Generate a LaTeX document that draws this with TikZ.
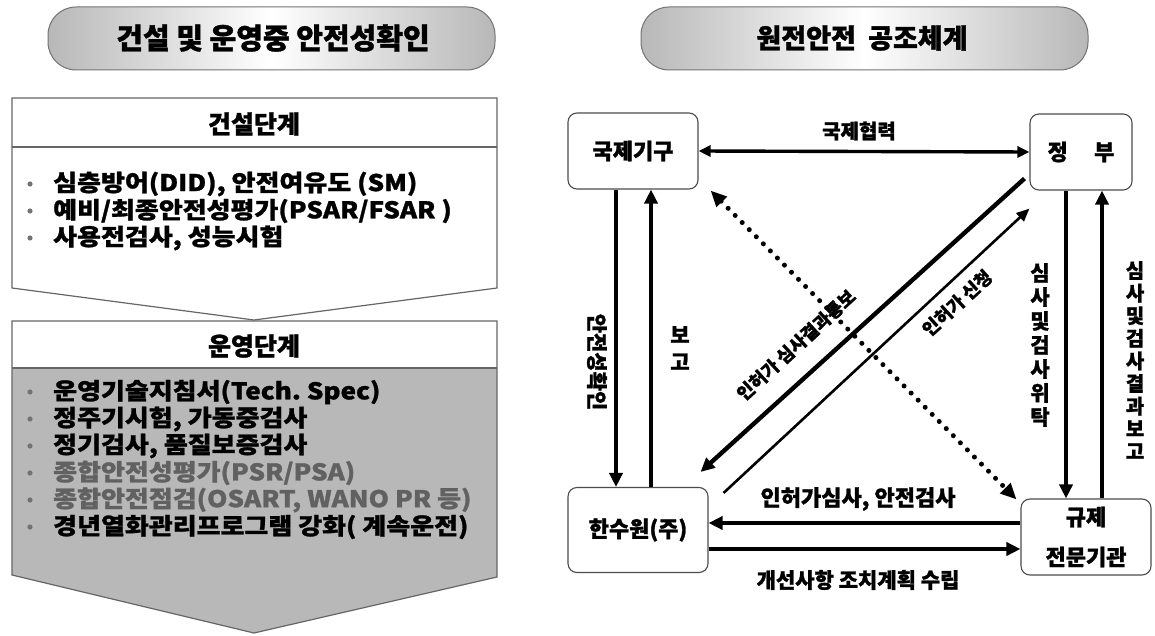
\documentclass[tikz,border=0pt]{standalone}
\usepackage{fontspec}
\setmainfont{Noto Sans CJK KR}[BoldFeatures={FakeBold=1.2}]
\newfontfamily\krwide{Noto Sans CJK KR}[FakeStretch=1.13, BoldFeatures={FakeBold=1.2}]
\usetikzlibrary{arrows.meta,calc}
\tikzset{
  boxline/.style={draw=black!60, line width=1.2pt},
  kbox/.style={draw=black!70, line width=1.1pt, rounded corners=9pt, fill=white, align=center,
    font=\fontsize{22}{26}\selectfont\bfseries},
  arrthick/.style={line width=4.4pt, -{Triangle[length=14pt,width=13pt]}},
  arrboth/.style={line width=3.4pt, {Triangle[length=12pt,width=11pt]}-{Triangle[length=12pt,width=11pt]}},
  arrthin/.style={line width=2.6pt, -{Triangle[length=13pt,width=11pt]}},
  dotarr/.style={line width=5pt, line cap=round, dash pattern=on 0pt off 10pt,
    {Triangle[length=16pt,width=14pt]}-{Triangle[length=16pt,width=14pt]}},
  lbl/.style={font=\fontsize{22}{26}\selectfont\bfseries, inner sep=0pt},
  smlbl/.style={font=\fontsize{18}{22}\selectfont\bfseries, inner sep=0pt},
  vstack/.style={font=\fontsize{21}{24}\selectfont\bfseries, align=center, inner sep=0pt},
  itemtxt/.style={anchor=west, inner sep=0pt, font=\krwide\fontsize{23}{26}\selectfont\bfseries},
  hdrtxt/.style={inner sep=0pt, font=\fontsize{25}{29}\selectfont\bfseries},
  pilltxt/.style={inner sep=0pt, font=\fontsize{29}{34}\selectfont\bfseries},
  bulletdot/.style={fill=black!55, draw=none},
  pill/.style={draw=black!55, line width=1pt, rounded corners=28pt,
    left color=black!28, right color=black!28, middle color=white}
}
\begin{document}
\begin{tikzpicture}[x=1pt,y=-1pt]
\useasboundingbox (0,0) rectangle (1155,636);
\fill[white] (0,0) rectangle (1155,636);

% ---------------- left panel ----------------
\shadedraw[pill] (48,7) rectangle (495,70);
\node[pilltxt] (ltitle) at (273,38) {건설 및 운영중 안전성확인};

% construction phase box
\draw[boxline, fill=white] (12,98) -- (497,98) -- (497,288) -- (254,320) -- (12,288) -- cycle;
\draw[boxline] (12,147) -- (497,147);
\node[hdrtxt] (h1) at (254,124) {건설단계};
\foreach \yy/\tt [count=\i] in {184/{심층방어(DID), 안전여유도 (SM)},
                                 211/{예비/최종안전성평가(PSAR/FSAR )},
                                 238/{사용전검사,\ 성능시험}}{
  \fill[bulletdot] (30,\yy) circle (2.6);
  \node[itemtxt] (c\i) at (53,\yy) {\tt};
}

% operation phase box
\fill[black!28] (12,368) -- (497,368) -- (497,577) -- (254,633) -- (12,575) -- cycle;
\fill[white] (12,321) rectangle (497,368);
\draw[boxline] (12,321) -- (497,321) -- (497,577) -- (254,633) -- (12,575) -- cycle;
\draw[boxline] (12,368) -- (497,368);
\node[hdrtxt] (h2) at (254,346) {운영단계};
\foreach \yy/\tt/\cc [count=\i] in {392/{운영기술지침서(Tech.\ Spec)}/black,
                                 419/{정주기시험, 가동중검사}/black,
                                 446/{정기검사, 품질보증검사}/black,
                                 473/{종합안전성평가(PSR/PSA)}/black!62,
                                 500/{종합안전점검(OSART, WANO PR 등)}/black!62,
                                 527/{경년열화관리프로그램 강화( 계속운전)}/black}{
  \fill[bulletdot] (30,\yy) circle (2.6);
  \node[itemtxt, text=\cc] (o\i) at (53,\yy) {\tt};
}

% ---------------- right panel ----------------
\shadedraw[pill] (641,7) rectangle (1088,70);
\node[pilltxt, font=\fontsize{27}{32}\selectfont\bfseries] (rtitle) at (862,38) {원전안전\ \ 공조체계};

\node[kbox, minimum width=130pt, minimum height=76pt] (gk) at (633,151) {국제기구};
\node[kbox, minimum width=102pt, minimum height=76pt] (gov) at (1081,152) {정\hspace{1.2em}부};
\node[kbox, minimum width=140pt, minimum height=85pt] (khnp) at (638,530) {한수원(주)};
\node[kbox, minimum width=130pt, minimum height=76pt] (reg) at (1086,537) {규제\\[14pt]전문기관};

% international cooperation
\draw[arrboth] (gk.east) -- (gov.west);
\node[smlbl, font=\fontsize{20}{24}\selectfont\bfseries] (lcoop) at (859,131) {국제협력};

% left verticals
\draw[arrthick] ([xshift=-17pt]gk.south) -- ([xshift=-17pt]gk.south |- khnp.north);
\draw[arrthick] ([xshift=18pt]gk.south |- khnp.north) -- ([xshift=18pt]gk.south);
\node[lbl, rotate=-90, font=\fontsize{21}{24}\selectfont\bfseries] (lsafe) at (597,362) {안전성확인};
\node[vstack, font=\fontsize{21}{27}\selectfont\bfseries] (lrep) at (680,348) {보\\고};

% right verticals
\draw[arrthick] ([xshift=-15pt]gov.south) -- ([xshift=-15pt]gov.south |- reg.north);
\draw[arrthick] ([xshift=21pt]gov.south |- reg.north) -- ([xshift=21pt]gov.south);
\node[vstack] (lentrust) at (1040,345) {심\\사\\및\\검\\사\\위\\탁};
\node[vstack, font=\fontsize{20}{22.6}\selectfont\bfseries] (lresult) at (1135,360) {심\\사\\및\\검\\사\\결\\과\\보\\고};

% bottom horizontals
\draw[arrthick] ([yshift=14pt]reg.west) -- ([yshift=14pt]reg.west -| khnp.east);
\draw[arrthick] ([yshift=-12pt]reg.west -| khnp.east) -- ([yshift=-12pt]reg.west);
\node[lbl, font=\fontsize{22}{26}\selectfont\bfseries] (linsp) at (858,499) {인허가심사, 안전검사};
\node[lbl, font=\fontsize{21}{26}\selectfont\bfseries] (lplan) at (858,580) {개선사항 조치계획 수립};

% diagonals
\draw[arrthick] ([shift={(-5pt,12pt)}]gov.south west) -- ([shift={(-8pt,15pt)}]khnp.north east);
\draw[arrthin] ([shift={(15pt,-6pt)}]khnp.north east) -- ([shift={(0pt,-18pt)}]gov.south west);
\node[smlbl, rotate=42.5] (lresnote) at (796,345) {인허가 심사결과통보};
\node[smlbl, rotate=42.5] (lapply) at (957,303) {인허가 신청};

% dotted double arrow
\draw[dotarr] ([shift={(12pt,-1pt)}]gk.south east) -- ([shift={(-4pt,-1pt)}]reg.north west);
\end{tikzpicture}
\end{document}
